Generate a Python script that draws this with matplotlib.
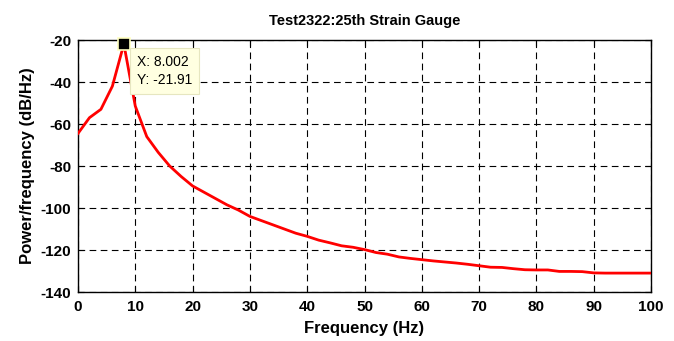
import matplotlib
matplotlib.use("Agg")
import matplotlib.pyplot as plt

plt.rcParams['font.family'] = ['Liberation Sans', 'DejaVu Sans']
plt.rcParams['axes.unicode_minus'] = False

freq = [0, 2, 4, 6, 8.002, 10, 12, 14, 16, 18, 20, 22, 24, 26, 28, 30, 32, 34, 36, 38,
        40, 42, 44, 46, 48, 50, 52, 54, 56, 58, 60, 62, 64, 66, 68, 70, 72, 74, 76, 78,
        80, 82, 84, 86, 88, 90, 92, 94, 96, 98, 100]
power = [-64.5, -57.0, -53.0, -42.0, -21.91, -51.5, -66.0, -73.5, -80.0, -85.0, -89.5,
         -92.5, -95.5, -98.5, -101.0, -104.0, -106.0, -108.0, -110.0, -112.0,
         -113.5, -115.3, -116.6, -118.0, -118.7, -119.8, -121.2, -122.0, -123.3, -124.0,
         -124.6, -125.2, -125.7, -126.2, -126.8, -127.5, -128.2, -128.3, -128.9, -129.4,
         -129.5, -129.5, -130.2, -130.2, -130.3, -130.9, -131.0, -131.0, -131.0, -131.0, -131.0]
marker_x = 8.002
marker_y = -21.91

title = "Test2322:25th Strain Gauge"
xlabel = "Frequency (Hz)"
ylabel = "Power/frequency (dB/Hz)"
xticks = list(range(0, 101, 10))
yticks = list(range(-140, -19, 20))

fig = plt.figure(figsize=(6.74, 3.41), dpi=100)
ax = fig.add_axes([78/674, 1-292/341, (651-78)/674, (292-40)/341])
ax.plot(freq, power, color='#ff0000', lw=2, zorder=3)
ax.plot([marker_x], [marker_y], marker='s', ms=8, color='black',
        markeredgecolor='#ffffc0', markeredgewidth=1.2, clip_on=False, zorder=5)
ax.annotate(f"X: {marker_x:.3f}\nY: {marker_y:.2f}", xy=(marker_x, marker_y),
            xytext=(9.5, -8), textcoords='offset points', ha='left', va='top',
            fontsize=10, linespacing=1.35,
            bbox=dict(boxstyle='square,pad=0.5', fc='#ffffe1', ec='#e6e6c0', lw=0.8),
            zorder=6)
ax.set_xlim(0, 100)
ax.set_ylim(-140, -20)
ax.set_xticks(xticks)
ax.set_yticks(yticks)
ax.grid(True, color='black', linestyle=(0, (6, 4)), linewidth=0.8)
ax.tick_params(direction='in', top=True, right=True, labelsize=11, length=4)
ax.tick_params(axis='x', pad=6)
ax.tick_params(axis='y', pad=5)
for lbl in ax.get_xticklabels() + ax.get_yticklabels():
    lbl.set_fontweight('bold')
for s in ax.spines.values():
    s.set_linewidth(1)
ax.set_title(title, fontsize=10.5, fontweight='bold', pad=11)
ax.set_xlabel(xlabel, fontsize=12, fontweight='bold', labelpad=5)
ax.set_ylabel(ylabel, fontsize=12, fontweight='bold', labelpad=4)
fig.savefig("out.png", dpi=100)
